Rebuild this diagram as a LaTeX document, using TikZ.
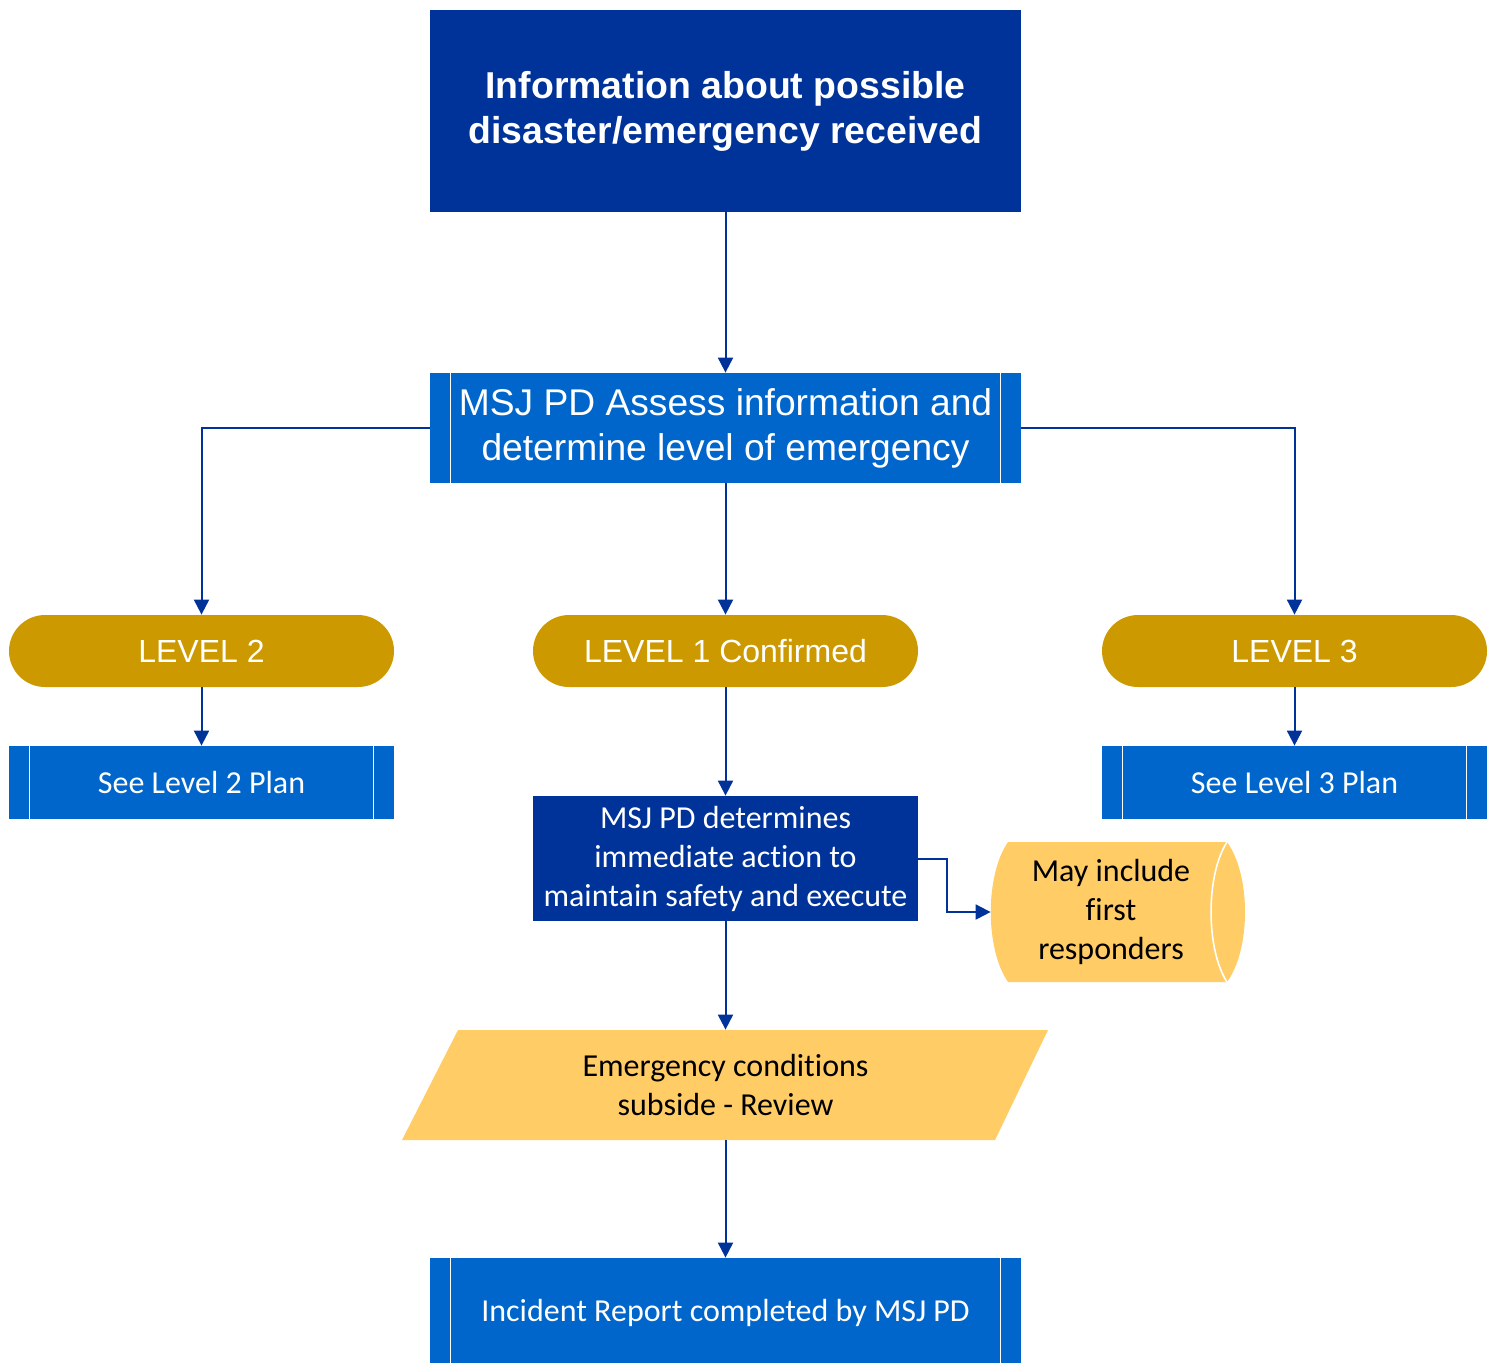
\documentclass[tikz,border=0pt]{standalone}
\usepackage{fontspec}
\setmainfont[Ligatures=NoCommon]{Carlito}
\newfontfamily\arialfont{Liberation Sans}
\usetikzlibrary{arrows.meta}
\definecolor{navy}{HTML}{003399}
\definecolor{procblue}{HTML}{0066CC}
\definecolor{gold}{HTML}{CC9900}
\definecolor{sand}{HTML}{FFCC66}

\begin{document}
\begin{tikzpicture}[
   x=0.5pt,y=-0.5pt,
   font=\fontsize{16}{19.5}\selectfont,
   head/.style={fill=navy,text=white,minimum width=295.5pt,minimum height=101pt,align=center,inner sep=0pt,
      font=\arialfont\bfseries\fontsize{18.7}{22.5}\selectfont},
   proc/.style={fill=procblue,text=white,minimum width=295.5pt,minimum height=55pt,align=center,inner sep=0pt},
   level/.style={fill=gold,text=white,rounded corners=18pt,minimum width=192.5pt,minimum height=36pt,inner sep=0pt,
      font=\arialfont\fontsize{16}{18}\selectfont},
   plan/.style={fill=procblue,text=white,minimum width=192.5pt,minimum height=36.5pt,inner sep=0pt},
   act/.style={fill=navy,text=white,minimum width=192.5pt,minimum height=62.5pt,align=center,inner sep=0pt},
   note/.style={align=center,inner sep=0pt,minimum height=55pt},
   bar/.style={white,line width=0.8pt},
   link/.style={-{Triangle[length=7.5pt,width=7.5pt]},draw=navy,line width=1pt}]
\useasboundingbox (0,0) rectangle (1497,1362);
\node[head] (info) at (725.5,111) {Information about possible\\disaster/emergency received};
\node[proc,font=\arialfont\fontsize{18.6}{22.5}\selectfont] (assess) at (725.5,428) {MSJ PD Assess information and\\determine level of emergency};
\node[level] (lvl2) at (201.5,651) {LEVEL 2};
\node[level] (lvl1) at (725.5,651) {LEVEL 1 Confirmed};
\node[level] (lvl3) at (1294.5,651) {LEVEL 3};
\node[plan] (plan2) at (201.5,782.5) {See Level 2 Plan};
\node[plan] (plan3) at (1294.5,782.5) {See Level 3 Plan};
\node[act] (determ) at (725.5,858.5) {MSJ PD determines\\immediate action to\\maintain safety and execute};
\fill[sand] (1008,842) -- (1227,842) .. controls (1251,875) and (1251,949) .. (1227,982)
   -- (1008,982) .. controls (985,949) and (985,875) .. (1008,842) -- cycle;
\draw[bar] (1227,842) .. controls (1205.7,875) and (1205.7,949) .. (1227,982);
\node[note,minimum width=120pt,minimum height=70pt] (responders) at (1111,912) {May include\\first\\responders};
\fill[sand] (458,1030) -- (1048,1030) -- (995,1140) -- (402,1140) -- cycle;
\node[note] (review) at (725.5,1085) {Emergency conditions\\subside - Review};
\node[proc] (incident) at (725.5,1313) {Incident Report completed by MSJ PD};
\foreach \n in {assess,plan2,plan3,incident}{
   \draw[bar] ([xshift=10.5pt]\n.north west) -- ([xshift=10.5pt]\n.south west);
   \draw[bar] ([xshift=-10.5pt]\n.north east) -- ([xshift=-10.5pt]\n.south east);
}
\draw[link] (info) -- (assess);
\draw[link] (assess) -- (lvl1);
\draw[link] (assess.west) -| (lvl2);
\draw[link] (assess.east) -| (lvl3);
\draw[link] (lvl2) -- (plan2);
\draw[link] (lvl3) -- (plan3);
\draw[link] (lvl1) -- (determ);
\draw[link] (determ.east) -- ++(29,0) |- (responders.west);
\draw[link] (determ) -- (review);
\draw[link] (review) -- (incident);
\end{tikzpicture}
\end{document}
